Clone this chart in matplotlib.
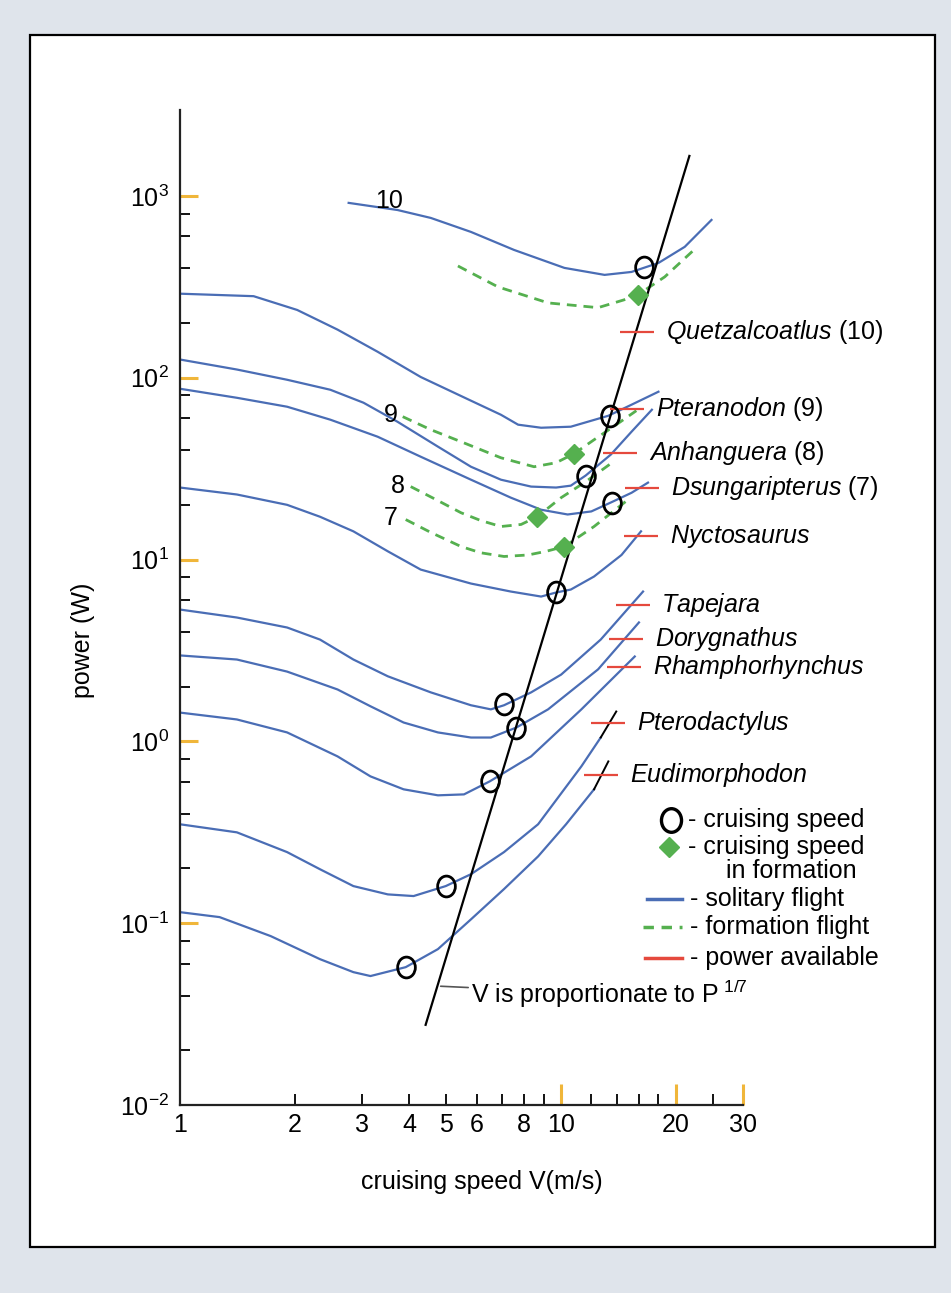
import matplotlib

matplotlib.use("Agg")
import matplotlib.pyplot as plt
from matplotlib.lines import Line2D
from matplotlib.markers import MarkerStyle
from matplotlib.patches import Rectangle
from matplotlib.ticker import FixedFormatter, FixedLocator
from matplotlib.transforms import Affine2D

plt.rcParams["font.family"] = ["Liberation Sans", "DejaVu Sans"]
plt.rcParams["mathtext.fontset"] = "custom"
plt.rcParams["mathtext.rm"] = "Liberation Sans"
plt.rcParams["mathtext.it"] = "Liberation Sans:italic"

# ---- solitary flight power curves: cruising speed V (m/s), power P (W) ----
quetzalcoatlus_v = [2.77, 3.72, 4.55, 5.80, 7.52, 10.2, 13.0, 15.3, 18.0, 21.1, 24.8]
quetzalcoatlus_p = [916, 837, 757, 634, 505, 402, 368, 382, 428, 525, 738]
pteranodon_v = [1.0, 1.56, 2.03, 2.59, 3.30, 4.28, 5.80, 6.95, 7.71, 8.86, 10.6, 13.3, 15.3, 18.0]
pteranodon_p = [290, 281, 236, 184, 139, 101, 74.8, 62.6, 55.2, 53.1, 53.8, 61.8, 71.1, 83.8]
anhanguera_v = [1.0, 1.41, 1.91, 2.48, 3.03, 3.72, 4.75, 5.80, 6.95, 8.34, 9.70, 10.6, 11.6, 13.5, 15.3, 17.3]
anhanguera_p = [126, 111, 97.5, 85.9, 72.9, 57.3, 41.8, 32.4, 27.5, 25.2, 24.9, 25.5, 29.0, 37.8, 50.5, 66.7]
dsungaripterus_v = [1.0, 1.41, 1.91, 2.48, 3.30, 4.28, 5.80, 7.38, 8.86, 10.4, 12.0, 13.5, 15.3, 16.9]
dsungaripterus_p = [87.0, 77.6, 69.3, 58.8, 47.4, 36.8, 27.5, 21.9, 18.8, 17.7, 18.4, 20.6, 23.3, 26.5]
nyctosaurus_v = [1.0, 1.41, 1.91, 2.33, 2.85, 3.51, 4.28, 5.80, 7.38, 8.86, 9.70, 10.6, 12.2, 14.4, 16.2]
nyctosaurus_p = [24.9, 22.8, 20.0, 17.2, 14.3, 11.1, 8.81, 7.38, 6.67, 6.26, 6.59, 6.84, 8.07, 10.6, 14.3]
tapejara_v = [1.0, 1.41, 1.91, 2.33, 2.85, 3.51, 4.55, 5.80, 6.54, 7.08, 8.34, 10.0, 12.7, 16.4]
tapejara_p = [5.31, 4.80, 4.23, 3.63, 2.82, 2.28, 1.86, 1.58, 1.50, 1.58, 1.86, 2.33, 3.63, 6.67]
dorygnathus_v = [1.0, 1.41, 1.91, 2.59, 3.16, 3.86, 4.75, 5.80, 6.54, 7.62, 9.24, 12.5, 16.0]
dorygnathus_p = [2.97, 2.82, 2.42, 1.93, 1.56, 1.27, 1.12, 1.05, 1.05, 1.19, 1.50, 2.49, 4.51]
rhamphorhynchus_v = [1.0, 1.41, 1.91, 2.59, 3.16, 3.86, 4.75, 5.56, 6.50, 8.34, 11.3, 15.6]
rhamphorhynchus_p = [1.44, 1.32, 1.12, 0.827, 0.642, 0.545, 0.505, 0.511, 0.603, 0.827, 1.50, 2.93]
pterodactylus_v = [1.0, 1.41, 1.91, 2.33, 2.85, 3.51, 4.10, 4.98, 5.80, 7.08, 8.70, 11.3, 12.7]
pterodactylus_p = [0.350, 0.316, 0.246, 0.198, 0.160, 0.144, 0.141, 0.160, 0.186, 0.246, 0.350, 0.729, 1.05]
pterodactylus_tip_v = [12.7, 13.95]
pterodactylus_tip_p = [1.05, 1.46]
eudimorphodon_v = [1.0, 1.27, 1.73, 2.33, 2.85, 3.16, 3.91, 4.75, 5.80, 7.08, 8.70, 10.3, 12.2]
eudimorphodon_p = [0.115, 0.108, 0.0849, 0.0634, 0.0538, 0.0512, 0.0573, 0.072, 0.105, 0.154, 0.233, 0.350, 0.545]
eudimorphodon_tip_v = [12.2, 13.3]
eudimorphodon_tip_p = [0.545, 0.776]

# ---- formation flight curves (species 10, 9, 8, 7) ----
formation10_v = [5.36, 6.83, 9.25, 12.5, 14.6, 15.9, 18.7, 22.6]
formation10_p = [412, 316, 258, 243, 268, 286, 359, 518]
formation9_v = [3.84, 4.55, 5.46, 6.95, 8.49, 9.70, 10.8, 12.2, 13.95, 15.75]
formation9_p = [61.1, 51.8, 44.5, 36.3, 32.4, 34.1, 38.2, 45.6, 55.2, 65.9]
formation8_v = [4.03, 4.69, 5.46, 6.15, 6.95, 7.85, 8.65, 10.0, 11.6, 13.7]
formation8_p = [25.2, 21.4, 18.1, 16.4, 15.2, 15.6, 17.2, 21.9, 26.8, 34.5]
formation7_v = [3.91, 4.55, 5.46, 6.15, 7.08, 8.19, 9.13, 10.2, 12.2, 15.0]
formation7_p = [16.6, 14.1, 11.8, 10.9, 10.4, 10.6, 11.1, 11.8, 15.2, 21.4]

# ---- point markers ----
cruise_v = [16.5, 13.4, 11.6, 13.6, 9.70, 7.08, 7.62, 6.50, 4.98, 3.91]
cruise_p = [407, 61.8, 29.0, 20.6, 6.59, 1.60, 1.19, 0.603, 0.160, 0.0573]
formation_cruise_v = [15.9, 10.8, 8.65, 10.2]
formation_cruise_p = [286, 38.2, 17.2, 11.8]

species_names = ["Quetzalcoatlus", "Pteranodon", "Anhanguera", "Dsungaripterus",
                 "Nyctosaurus", "Tapejara", "Dorygnathus", "Rhamphorhynchus",
                 "Pterodactylus", "Eudimorphodon"]
species_numbers = ["10", "9", "8", "7", "", "", "", "", "", ""]
available_v = [15.85, 14.9, 14.3, 16.3, 16.2, 15.4, 14.8, 14.6, 13.3, 12.7]
available_p = [179, 67.6, 38.7, 24.9, 13.4, 5.66, 3.68, 2.55, 1.26, 0.65]

# V is proportional to P^(1/7)
proportional_v = [4.41, 21.7]
proportional_p = [0.0276, 1660]

x_major_ticks = [10, 20, 30]
x_minor_ticks = [1, 2, 3, 4, 5, 6, 7, 8, 9, 12, 14, 16, 18, 25]
x_minor_labels = ["1", "2", "3", "4", "5", "6", "", "8", "", "", "", "", "", ""]
y_major_ticks = [0.01, 0.1, 1, 10, 100, 1000]
y_major_labels = [r"$10^{-2}$", r"$10^{-1}$", r"$10^{0}$", r"$10^{1}$", r"$10^{2}$", r"$10^{3}$"]
y_minor_ticks = [m * d for d in [0.01, 0.1, 1, 10, 100] for m in (2, 4, 6, 8)]

BLUE = "#4a6db5"
GREEN = "#55b04f"
RED = "#e5493d"
ORANGE = "#f0b63a"
BG = "#dfe4eb"

W, H = 951, 1293

# letter-O like open marker (slightly taller than wide)
O_MARK = MarkerStyle("o", fillstyle="none", transform=Affine2D().scale(0.85, 1.0))


def fxy(px, py):
    """Pixel position in the reference image -> figure fraction."""
    return px / W, 1 - py / H


fig = plt.figure(figsize=(W / 100, H / 100), dpi=100, facecolor=BG)
x0, y0 = fxy(30, 1247)
x1, y1 = fxy(935, 35)
fig.patches.append(Rectangle((x0, y0), x1 - x0, y1 - y0, transform=fig.transFigure,
                             facecolor="white", edgecolor="black", lw=1.6, zorder=-1))

ax_l, ax_b = fxy(180, 1105)
ax_r, ax_t = fxy(743, 110)
ax = fig.add_axes([ax_l, ax_b, ax_r - ax_l, ax_t - ax_b])
ax.patch.set_visible(False)
ax.set_xscale("log")
ax.set_yscale("log")

solitary = [
    (quetzalcoatlus_v, quetzalcoatlus_p), (pteranodon_v, pteranodon_p),
    (anhanguera_v, anhanguera_p), (dsungaripterus_v, dsungaripterus_p),
    (nyctosaurus_v, nyctosaurus_p), (tapejara_v, tapejara_p),
    (dorygnathus_v, dorygnathus_p), (rhamphorhynchus_v, rhamphorhynchus_p),
    (pterodactylus_v, pterodactylus_p), (eudimorphodon_v, eudimorphodon_p),
]
for v, p in solitary:
    ax.plot(v, p, color=BLUE, lw=1.6, zorder=2, solid_joinstyle="round")
ax.plot(pterodactylus_tip_v, pterodactylus_tip_p, color="black", lw=1.4, zorder=2)
ax.plot(eudimorphodon_tip_v, eudimorphodon_tip_p, color="black", lw=1.4, zorder=2)

formation = [(formation10_v, formation10_p), (formation9_v, formation9_p),
             (formation8_v, formation8_p), (formation7_v, formation7_p)]
for v, p in formation:
    ax.plot(v, p, color=GREEN, lw=2.0, dashes=(3.5, 2.5), zorder=2)

ax.plot(proportional_v, proportional_p, color="black", lw=1.6, zorder=3)

ax.plot(available_v, available_p, ls="none", marker="_", ms=24, mew=1.6, color=RED, zorder=3)
ax.plot(formation_cruise_v, formation_cruise_p, ls="none", marker="D", ms=10,
        color=GREEN, mec=GREEN, zorder=4)
ax.plot(cruise_v, cruise_p, ls="none", marker=O_MARK, ms=15, mec="black",
        mew=2.0, zorder=5)

for name, num, v, p in zip(species_names, species_numbers, available_v, available_p):
    label = r"$\mathit{" + name + "}$"
    if num:
        label += " (" + num + ")"
    ax.text(v * 1.19, p, label, fontsize=18, va="center", ha="left")

# curve numbers
ax.text(3.53, 940, "10", fontsize=18, ha="center", va="center")
ax.text(3.57, 62.6, "9", fontsize=18, ha="center", va="center")
ax.text(3.72, 25.5, "8", fontsize=18, ha="center", va="center")
ax.text(3.57, 17.0, "7", fontsize=18, ha="center", va="center")

ax.annotate(r"V is proportionate to P$^{\ 1/7}$", xy=(4.83, 0.045), xytext=(5.8, 0.0407),
            fontsize=18, va="center", ha="left",
            arrowprops=dict(arrowstyle="-", color="#555555", lw=1.2, shrinkA=0, shrinkB=0))

ax.set_xlim(1, 30)
ax.set_ylim(0.01, 2970)

ax.xaxis.set_major_locator(FixedLocator(x_major_ticks))
ax.xaxis.set_major_formatter(FixedFormatter([str(t) for t in x_major_ticks]))
ax.xaxis.set_minor_locator(FixedLocator(x_minor_ticks))
ax.xaxis.set_minor_formatter(FixedFormatter(x_minor_labels))
ax.yaxis.set_major_locator(FixedLocator(y_major_ticks))
ax.yaxis.set_major_formatter(FixedFormatter(y_major_labels))
ax.yaxis.set_minor_locator(FixedLocator(y_minor_ticks))
ax.yaxis.set_minor_formatter(FixedFormatter([""] * len(y_minor_ticks)))

ax.tick_params(axis="x", which="major", direction="in", length=15, width=2.2,
               color=ORANGE, labelsize=18, pad=6)
ax.tick_params(axis="x", which="minor", direction="in", length=8, width=1.3,
               color="black", labelsize=18, pad=6)
ax.tick_params(axis="y", which="major", direction="in", length=13, width=2.2,
               color=ORANGE, labelsize=18, pad=8)
ax.tick_params(axis="y", which="minor", direction="in", length=7, width=1.3, color="black")
# no orange mark in the corner at 10^-2
ax.yaxis.get_major_ticks()[0].tick1line.set_visible(False)

for side in ("top", "right"):
    ax.spines[side].set_visible(False)
for side in ("left", "bottom"):
    ax.spines[side].set_linewidth(1.6)
    ax.spines[side].set_color("#222222")

ax.set_xlabel("cruising speed V(m/s)", fontsize=18)
ax.set_ylabel("power (W)", fontsize=18)
ax.xaxis.set_label_coords((482 - 180) / 563, (1105 - 1170) / 995)
ax.yaxis.set_label_coords((95 - 180) / 563, (1105 - 640) / 995)


# ---- hand-drawn legend ----
def legend_line(px0, px1, py, **kw):
    a, b = fxy(px0, py)
    c, _ = fxy(px1, py)
    fig.add_artist(Line2D([a, c], [b, b], transform=fig.transFigure, **kw))


def legend_text(px, py, s):
    x, y = fxy(px, py)
    fig.text(x, y, s, fontsize=18, va="center", ha="left")


mx, my = fxy(671, 820)
fig.add_artist(Line2D([mx], [my], transform=fig.transFigure, ls="none", marker=O_MARK,
                      ms=17, mec="black", mew=2.4))
legend_text(688, 820, "- cruising speed")
mx, my = fxy(669, 847)
fig.add_artist(Line2D([mx], [my], transform=fig.transFigure, ls="none", marker="D",
                      ms=10, color=GREEN))
legend_text(688, 847, "- cruising speed")
legend_text(726, 871, "in formation")
legend_line(647, 682, 899, color=BLUE, lw=2.5)
legend_text(690, 899, "- solitary flight")
legend_line(643, 682, 927, color=GREEN, lw=2.5, dashes=(3, 2.2))
legend_text(690, 927, "- formation flight")
legend_line(645, 682, 958, color=RED, lw=2.5)
legend_text(690, 958, "- power available")

fig.savefig("out.png", dpi=100, facecolor=BG)
